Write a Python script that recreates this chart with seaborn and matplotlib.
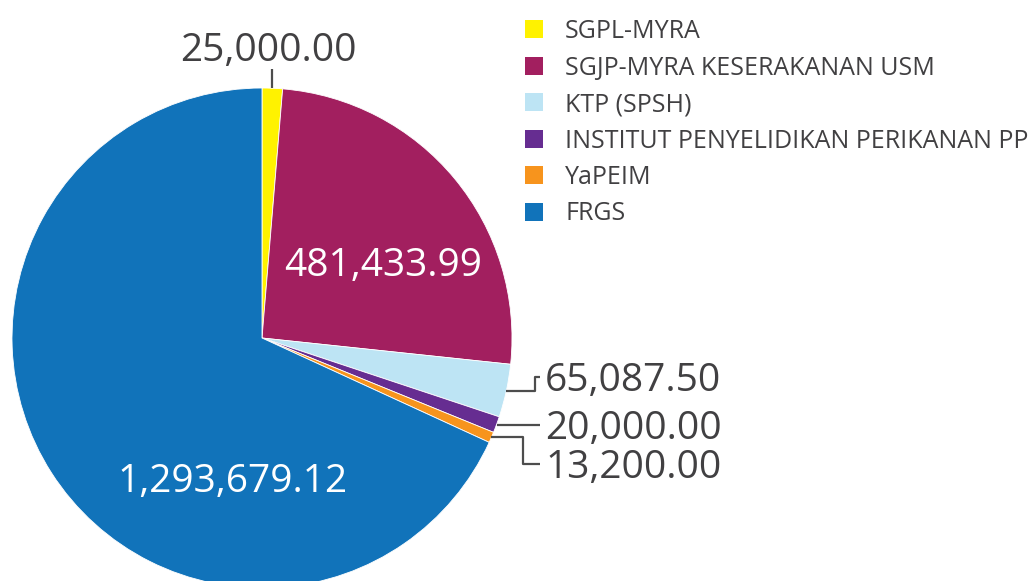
import numpy as np
import matplotlib
matplotlib.use("Agg")
import matplotlib.pyplot as plt
import seaborn as sns

# Funding sources and amounts (RM)
sources = [
    "SGPL-MYRA",
    "SGJP-MYRA KESERAKANAN USM",
    "KTP (SPSH)",
    "INSTITUT PENYELIDIKAN PERIKANAN PP",
    "YaPEIM",
    "FRGS",
]
amounts = [25000.00, 481433.99, 65087.50, 20000.00, 13200.00, 1293679.12]
colors = ["#FFF200", "#A21F5F", "#BDE4F4", "#662D91", "#F7941D", "#1173BA"]

sns.set_theme(style="white")
plt.rcParams["font.family"] = ["Open Sans", "DejaVu Sans"]
TEXT = "#414042"

W, H = 1028, 581
fig = plt.figure(figsize=(W / 100, H / 100), dpi=100)
fig.patch.set_facecolor("white")

# Pie axes: 500 px square, centred at (262, 338) px from top-left
cx, cy, R = 262, 338, 250
ax = fig.add_axes([(cx - R) / W, (H - cy - R) / H, 2 * R / W, 2 * R / H])

wedges, _ = ax.pie(
    amounts, colors=colors, startangle=90, counterclock=False, radius=1,
    wedgeprops=dict(linewidth=0.6, edgecolor="white"),
)
ax.set_xlim(-1, 1)
ax.set_ylim(-1, 1)
ax.set_aspect("equal")
ax.axis("off")


def fmt(v):
    return f"{v:,.2f}"


def px(x, y):
    """Convert pixel position (from top-left) to pie data coords."""
    return (x - cx) / R, (cy - y) / R


def mid_point(w, r=1.0):
    a = np.deg2rad((w.theta1 + w.theta2) / 2)
    return r * np.cos(a), r * np.sin(a)


line_kw = dict(color="#4d4d4d", lw=1.6, clip_on=False, solid_capstyle="butt")
big = 28
dy = 4 / R  # nudge text down so digits sit centred on the leader

# Inside labels
for i, (x, y) in [(1, px(383, 262)), (5, px(233, 478))]:
    ax.text(x, y - dy, fmt(amounts[i]), color="white", fontsize=big,
            ha="center", va="center", clip_on=False)

# Top label with vertical leader
x0, y0 = mid_point(wedges[0])
_, ytop = px(0, 69)
ax.plot([x0, x0], [y0, ytop], **line_kw)
lx, ly = px(268, 47)
ax.text(lx, ly - dy, fmt(amounts[0]), color=TEXT, fontsize=big,
        ha="center", va="center", clip_on=False)

# Right-hand labels with elbow leaders
tx, _ = px(545, 0)
lend, _ = px(540, 0)
right = [(2, 377, 535), (3, 420, None), (4, 464, 523)]
for i, ypx, elbow in right:
    x0, y0 = mid_point(wedges[i])
    _, yl = px(0, ypx)
    if elbow is None:
        ax.plot([x0, lend], [y0, y0], **line_kw)
        yl = y0
    else:
        ex, _ = px(elbow, 0)
        ax.plot([x0, ex, ex, lend], [y0, y0, yl, yl], **line_kw)
    ax.text(tx, yl - dy, fmt(amounts[i]), color=TEXT, fontsize=big,
            ha="left", va="center", clip_on=False)

# Legend
leg = fig.legend(
    wedges, sources, loc="upper left",
    bbox_to_anchor=(525 / W, 1 - 19 / H), frameon=False,
    fontsize=18, labelcolor=TEXT,
    handlelength=0.72, handleheight=0.72, handletextpad=0.88,
    labelspacing=0.46, borderaxespad=0, borderpad=0,
)
for h in leg.legend_handles:
    h.set_linewidth(0)

fig.savefig("out.png", dpi=100, facecolor="white")
